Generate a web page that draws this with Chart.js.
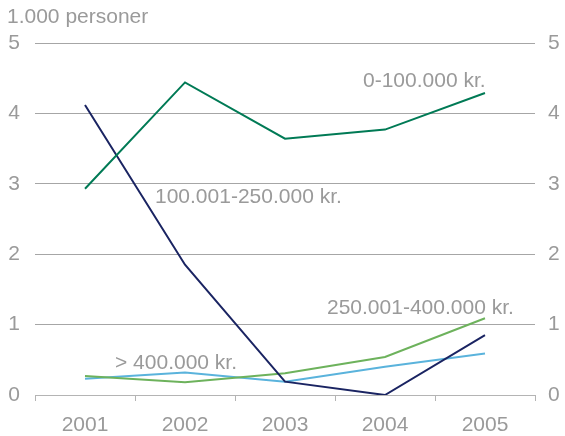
<!DOCTYPE html>
<html>
<head>
<meta charset="utf-8">
<script src="https://cdn.jsdelivr.net/npm/chart.js@4"></script>
<style>
  html, body { margin: 0; padding: 0; background: #fff; }
  #wrap { width: 565px; height: 436px; }
</style>
</head>
<body>
<div id="wrap"><canvas id="chart" width="565" height="436"></canvas></div>
<script>
// Data
const years = ['2001', '2002', '2003', '2004', '2005'];
const lowIncome = [2.93, 4.44, 3.64, 3.77, 4.29];      // 0-100.000 kr.
const midIncome = [4.12, 1.85, 0.19, 0.0, 0.85];       // 100.001-250.000 kr.
const upperIncome = [0.27, 0.18, 0.31, 0.54, 1.09];    // 250.001-400.000 kr.
const topIncome = [0.23, 0.32, 0.19, 0.40, 0.59];      // > 400.000 kr.
const yTicks = [0, 1, 2, 3, 4, 5];

const textGrey = '#9a9a9a';
const fontFamily = '"Liberation Sans", Arial, sans-serif';

// Series labels drawn next to the lines
const seriesLabels = [
    { text: '0-100.000 kr.', x: 363, y: 81 },
    { text: '100.001-250.000 kr.', x: 155, y: 197 },
    { text: '250.001-400.000 kr.', x: 327, y: 308 },
    { text: '> 400.000 kr.', x: 115, y: 363 }
];

const labelPlugin = {
    id: 'labels',
    afterDraw(chart) {
        const c = chart.ctx;
        c.save();
        c.fillStyle = textGrey;
        c.font = '21px ' + fontFamily;
        c.textBaseline = 'middle';
        c.textAlign = 'left';
        c.fillText('1.000 personer', 7, 17);
        seriesLabels.forEach(l => c.fillText(l.text, l.x, l.y));
        c.restore();
    }
};

function line(data, color) {
    return {
        data: data,
        borderColor: color,
        borderWidth: 2,
        pointRadius: 0,
        fill: false,
        tension: 0,
        yAxisID: 'y'
    };
}

const ctx = document.getElementById('chart').getContext('2d');
new Chart(ctx, {
    type: 'line',
    data: {
        labels: years,
        datasets: [
            line(lowIncome, '#007a55'),
            line(midIncome, '#1a2462'),
            line(upperIncome, '#6db25c'),
            line(topIncome, '#5ab3dc')
        ]
    },
    options: {
        responsive: false,
        animation: false,
        layout: { padding: { top: 43, left: 0, right: 0, bottom: 0 } },
        plugins: { legend: { display: false }, tooltip: { enabled: false } },
        scales: {
            x: {
                offset: true,
                grid: {
                    offset: true,
                    drawOnChartArea: false,
                    drawTicks: true,
                    tickLength: 6,
                    color: '#b4b4b4'
                },
                border: { display: true, color: '#b4b4b4', width: 1 },
                ticks: {
                    color: textGrey,
                    font: { family: fontFamily, size: 21 },
                    padding: 12,
                    maxRotation: 0
                },
                afterFit(scale) { scale.height = 41; }
            },
            y: {
                position: 'left',
                min: 0,
                max: 5,
                afterBuildTicks(scale) { scale.ticks = yTicks.map(v => ({ value: v })); },
                grid: { color: '#a6a6a6', lineWidth: 1, drawTicks: false },
                border: { display: false },
                ticks: {
                    color: textGrey,
                    font: { family: fontFamily, size: 21 },
                    padding: 15
                },
                afterFit(scale) { scale.width = 35; }
            },
            y2: {
                position: 'right',
                min: 0,
                max: 5,
                afterBuildTicks(scale) { scale.ticks = yTicks.map(v => ({ value: v })); },
                grid: { drawOnChartArea: false, drawTicks: false },
                border: { display: false },
                ticks: {
                    color: textGrey,
                    font: { family: fontFamily, size: 21 },
                    padding: 13
                },
                afterFit(scale) { scale.width = 30; }
            }
        }
    },
    plugins: [labelPlugin]
});
</script>
</body>
</html>
